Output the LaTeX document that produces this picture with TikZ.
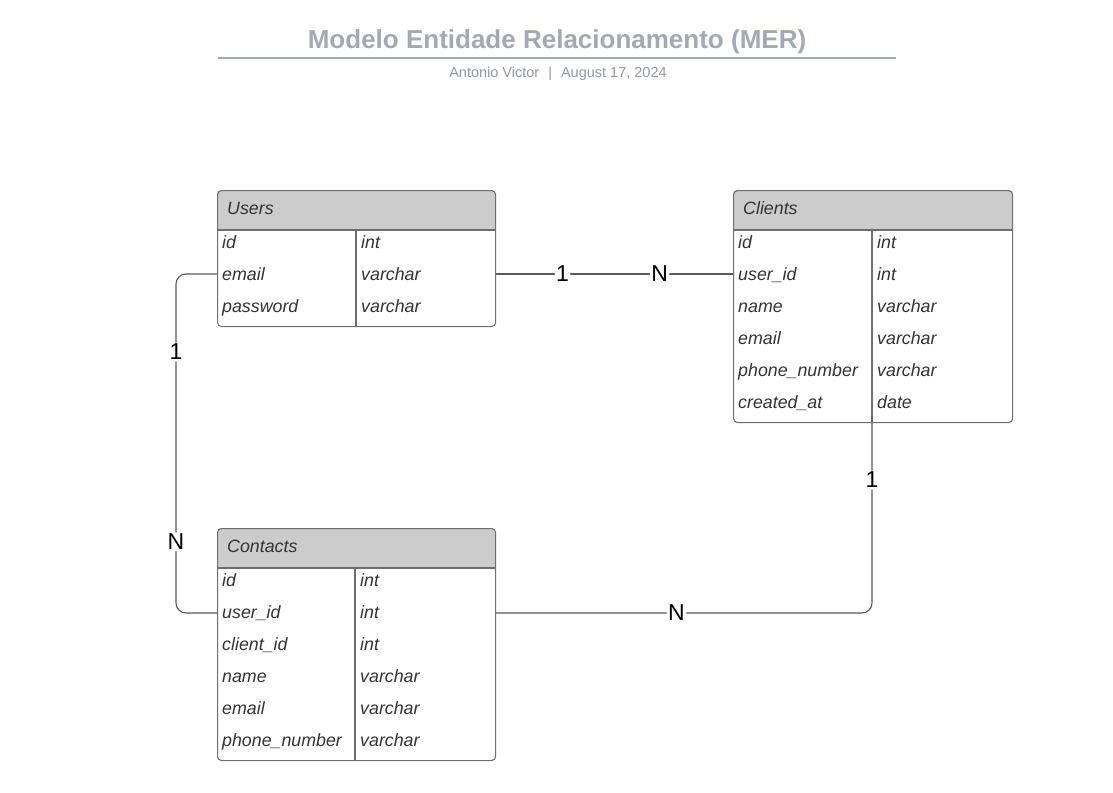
\documentclass[tikz,border=0pt]{standalone}
\usepackage{fontspec}
\setmainfont{Liberation Sans}
\usepackage{tikz}
\definecolor{titlegray}{HTML}{A3A9B2}
\definecolor{boxline}{HTML}{6E6E6E}
\definecolor{headfill}{HTML}{CCCCCC}
\definecolor{txtgray}{HTML}{333333}
\definecolor{linkgray}{HTML}{5A5A5A}
\tikzset{
  tablebox/.style={draw=boxline,line width=1.1pt,rounded corners=4pt,inner sep=0pt,anchor=north west},
  fieldtxt/.style={anchor=west,inner sep=0pt,text height=12.5pt,text depth=3.5pt,text=txtgray,
    font=\fontsize{17.8}{20}\selectfont\itshape},
  headtxt/.style={fieldtxt},
  link/.style={draw=linkgray,line width=1.1pt,rounded corners=10pt},
  card/.style={fill=white,inner sep=1.5pt,text=black,font=\fontsize{23}{26}\selectfont}
}
\begin{document}
\begin{tikzpicture}[x=1pt,y=-1pt]
  \useasboundingbox[fill=white] (0,0) rectangle (1113,792);
  % title
  \node[text=titlegray,font=\fontsize{26}{30}\selectfont\bfseries] (title) at (557,42) {Modelo Entidade Relacionamento (MER)};
  \draw[titlegray,line width=1.6pt] (218,58) -- (896,58);
  \node[text=titlegray!90!black,font=\fontsize{14.5}{16}\selectfont] (author) at (558,74) {Antonio Victor\hspace{9pt}|\hspace{9pt}August 17, 2024};
  % Users
  \fill[headfill,rounded corners=4pt] (217,230) -- (217,190) -- (495,190) [sharp corners] -- (495,230) -- cycle;
  \node[tablebox,minimum width=278pt,minimum height=136pt] (users) at (217,190) {};
  \draw[boxline,line width=1.1pt] (217,230) -- (495,230);
  \draw[boxline,line width=1.1pt] (356,230) -- (356,326);
  \node[headtxt] (users-h) at (227,210) {Users};
  \foreach \n/\f/\t [count=\i] in {id/id/int, email/email/varchar, pw/password/varchar} {
    \node[fieldtxt] (users-\n) at (222,212+32*\i) {\f};
    \node[fieldtxt] at (361,212+32*\i) {\t};
  }
  % Clients
  \fill[headfill,rounded corners=4pt] (733,230) -- (733,190) -- (1012,190) [sharp corners] -- (1012,230) -- cycle;
  \node[tablebox,minimum width=279pt,minimum height=232pt] (clients) at (733,190) {};
  \draw[boxline,line width=1.1pt] (733,230) -- (1012,230);
  \coordinate (clients-col) at (872,230);
  \draw[boxline,line width=1.1pt] (clients-col) -- (clients.south -| clients-col);
  \node[headtxt] (clients-h) at (743,210) {Clients};
  \foreach \n/\f/\t [count=\i] in {id/id/int, uid/user\_id/int, name/name/varchar, email/email/varchar,
      phone/phone\_number/varchar, created/created\_at/date} {
    \node[fieldtxt] (clients-\n) at (738,212+32*\i) {\f};
    \node[fieldtxt] at (877,212+32*\i) {\t};
  }
  % Contacts
  \fill[headfill,rounded corners=4pt] (217,568) -- (217,528) -- (495,528) [sharp corners] -- (495,568) -- cycle;
  \node[tablebox,minimum width=278pt,minimum height=232pt] (contacts) at (217,528) {};
  \draw[boxline,line width=1.1pt] (217,568) -- (495,568);
  \draw[boxline,line width=1.1pt] (355,568) -- (355,760);
  \node[headtxt] (contacts-h) at (227,548) {Contacts};
  \foreach \n/\f/\t [count=\i] in {id/id/int, uid/user\_id/int, cid/client\_id/int, name/name/varchar,
      email/email/varchar, phone/phone\_number/varchar} {
    \node[fieldtxt] (contacts-\n) at (222,550+32*\i) {\f};
    \node[fieldtxt] at (360,550+32*\i) {\t};
  }
  % relations
  \coordinate (ucrow) at (217,274);
  \coordinate (ccrow) at (217,613);
  \draw[link] (users.east |- ucrow) -- node[card,pos=.28] {1} node[card,pos=.69] {N} (clients.west |- ucrow);
  \coordinate (ucbend) at (176,274);
  \draw[link] (users.west |- ucrow) -- (ucbend) -- node[card,pos=.23] {1} node[card,pos=.79] {N}
    (ucbend |- ccrow) -- (contacts.west |- ccrow);
  \coordinate (ccbend) at (clients-col |- ccrow);
  \draw[link] (contacts.east |- ccrow) -- node[card,pos=.48] {N} (ccbend)
    -- node[card,pos=.70] {1} (clients.south -| clients-col);
\end{tikzpicture}
\end{document}
